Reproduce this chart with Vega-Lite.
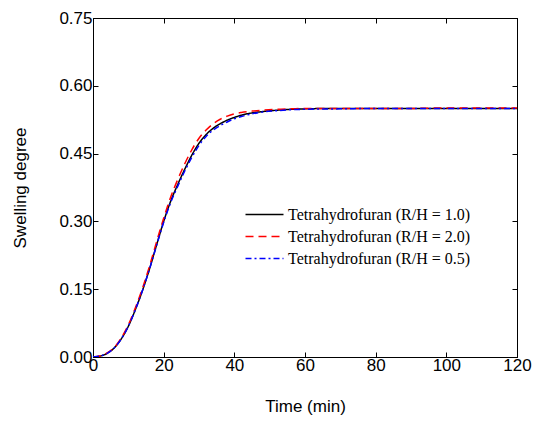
{
  "$schema": "https://vega.github.io/schema/vega-lite/v6.json",
  "width": 424,
  "height": 339,
  "autosize": "none",
  "padding": {"left": 93, "top": 18, "right": 16, "bottom": 64},
  "background": "white",
  "config": {
    "view": {"stroke": "black", "strokeWidth": 1},
    "axis": {
      "grid": false,
      "domainColor": "black",
      "tickColor": "black",
      "tickSize": -5,
      "labelFont": "Liberation Sans",
      "labelFontSize": 17,
      "labelColor": "black",
      "titleFont": "Liberation Sans",
      "titleFontSize": 17,
      "titleFontWeight": "normal",
      "titleColor": "black"
    },
    "legend": {
      "title": null,
      "orient": "none",
      "legendX": 161,
      "legendY": 186,
      "symbolType": "M-2,0H2",
      "symbolSize": 361,
      "symbolStrokeWidth": 1.5,
      "symbolFillColor": "transparent",
      "labelFont": "Liberation Serif",
      "labelFontSize": 16,
      "labelColor": "black",
      "labelLimit": 0,
      "labelOffset": 13,
      "rowPadding": 3,
      "padding": 0
    }
  },
  "data": {
    "values": [
      {"t": 0, "v": 0.0, "s": "Tetrahydrofuran (R/H = 1.0)"},
      {"t": 2, "v": 0.002, "s": "Tetrahydrofuran (R/H = 1.0)"},
      {"t": 4, "v": 0.008, "s": "Tetrahydrofuran (R/H = 1.0)"},
      {"t": 6, "v": 0.02, "s": "Tetrahydrofuran (R/H = 1.0)"},
      {"t": 8, "v": 0.04, "s": "Tetrahydrofuran (R/H = 1.0)"},
      {"t": 10, "v": 0.068, "s": "Tetrahydrofuran (R/H = 1.0)"},
      {"t": 12, "v": 0.105, "s": "Tetrahydrofuran (R/H = 1.0)"},
      {"t": 14, "v": 0.147, "s": "Tetrahydrofuran (R/H = 1.0)"},
      {"t": 16, "v": 0.195, "s": "Tetrahydrofuran (R/H = 1.0)"},
      {"t": 18, "v": 0.248, "s": "Tetrahydrofuran (R/H = 1.0)"},
      {"t": 20, "v": 0.3, "s": "Tetrahydrofuran (R/H = 1.0)"},
      {"t": 22, "v": 0.345, "s": "Tetrahydrofuran (R/H = 1.0)"},
      {"t": 24, "v": 0.382, "s": "Tetrahydrofuran (R/H = 1.0)"},
      {"t": 26, "v": 0.416, "s": "Tetrahydrofuran (R/H = 1.0)"},
      {"t": 28, "v": 0.447, "s": "Tetrahydrofuran (R/H = 1.0)"},
      {"t": 30, "v": 0.473, "s": "Tetrahydrofuran (R/H = 1.0)"},
      {"t": 32, "v": 0.492, "s": "Tetrahydrofuran (R/H = 1.0)"},
      {"t": 34, "v": 0.506, "s": "Tetrahydrofuran (R/H = 1.0)"},
      {"t": 36, "v": 0.516, "s": "Tetrahydrofuran (R/H = 1.0)"},
      {"t": 38, "v": 0.524, "s": "Tetrahydrofuran (R/H = 1.0)"},
      {"t": 40, "v": 0.53, "s": "Tetrahydrofuran (R/H = 1.0)"},
      {"t": 42, "v": 0.535, "s": "Tetrahydrofuran (R/H = 1.0)"},
      {"t": 45, "v": 0.54, "s": "Tetrahydrofuran (R/H = 1.0)"},
      {"t": 48, "v": 0.543, "s": "Tetrahydrofuran (R/H = 1.0)"},
      {"t": 52, "v": 0.546, "s": "Tetrahydrofuran (R/H = 1.0)"},
      {"t": 56, "v": 0.548, "s": "Tetrahydrofuran (R/H = 1.0)"},
      {"t": 60, "v": 0.549, "s": "Tetrahydrofuran (R/H = 1.0)"},
      {"t": 70, "v": 0.55, "s": "Tetrahydrofuran (R/H = 1.0)"},
      {"t": 80, "v": 0.55, "s": "Tetrahydrofuran (R/H = 1.0)"},
      {"t": 90, "v": 0.55, "s": "Tetrahydrofuran (R/H = 1.0)"},
      {"t": 100, "v": 0.55, "s": "Tetrahydrofuran (R/H = 1.0)"},
      {"t": 110, "v": 0.55, "s": "Tetrahydrofuran (R/H = 1.0)"},
      {"t": 120, "v": 0.55, "s": "Tetrahydrofuran (R/H = 1.0)"},
      {"t": 0, "v": 0.0, "s": "Tetrahydrofuran (R/H = 2.0)"},
      {"t": 2, "v": 0.002, "s": "Tetrahydrofuran (R/H = 2.0)"},
      {"t": 4, "v": 0.009, "s": "Tetrahydrofuran (R/H = 2.0)"},
      {"t": 6, "v": 0.021, "s": "Tetrahydrofuran (R/H = 2.0)"},
      {"t": 8, "v": 0.042, "s": "Tetrahydrofuran (R/H = 2.0)"},
      {"t": 10, "v": 0.071, "s": "Tetrahydrofuran (R/H = 2.0)"},
      {"t": 12, "v": 0.109, "s": "Tetrahydrofuran (R/H = 2.0)"},
      {"t": 14, "v": 0.152, "s": "Tetrahydrofuran (R/H = 2.0)"},
      {"t": 16, "v": 0.201, "s": "Tetrahydrofuran (R/H = 2.0)"},
      {"t": 18, "v": 0.255, "s": "Tetrahydrofuran (R/H = 2.0)"},
      {"t": 20, "v": 0.307, "s": "Tetrahydrofuran (R/H = 2.0)"},
      {"t": 22, "v": 0.354, "s": "Tetrahydrofuran (R/H = 2.0)"},
      {"t": 24, "v": 0.393, "s": "Tetrahydrofuran (R/H = 2.0)"},
      {"t": 26, "v": 0.428, "s": "Tetrahydrofuran (R/H = 2.0)"},
      {"t": 28, "v": 0.459, "s": "Tetrahydrofuran (R/H = 2.0)"},
      {"t": 30, "v": 0.484, "s": "Tetrahydrofuran (R/H = 2.0)"},
      {"t": 32, "v": 0.502, "s": "Tetrahydrofuran (R/H = 2.0)"},
      {"t": 34, "v": 0.516, "s": "Tetrahydrofuran (R/H = 2.0)"},
      {"t": 36, "v": 0.526, "s": "Tetrahydrofuran (R/H = 2.0)"},
      {"t": 38, "v": 0.533, "s": "Tetrahydrofuran (R/H = 2.0)"},
      {"t": 40, "v": 0.538, "s": "Tetrahydrofuran (R/H = 2.0)"},
      {"t": 42, "v": 0.541, "s": "Tetrahydrofuran (R/H = 2.0)"},
      {"t": 45, "v": 0.544, "s": "Tetrahydrofuran (R/H = 2.0)"},
      {"t": 48, "v": 0.546, "s": "Tetrahydrofuran (R/H = 2.0)"},
      {"t": 52, "v": 0.548, "s": "Tetrahydrofuran (R/H = 2.0)"},
      {"t": 56, "v": 0.549, "s": "Tetrahydrofuran (R/H = 2.0)"},
      {"t": 60, "v": 0.55, "s": "Tetrahydrofuran (R/H = 2.0)"},
      {"t": 70, "v": 0.55, "s": "Tetrahydrofuran (R/H = 2.0)"},
      {"t": 80, "v": 0.55, "s": "Tetrahydrofuran (R/H = 2.0)"},
      {"t": 90, "v": 0.55, "s": "Tetrahydrofuran (R/H = 2.0)"},
      {"t": 100, "v": 0.551, "s": "Tetrahydrofuran (R/H = 2.0)"},
      {"t": 110, "v": 0.551, "s": "Tetrahydrofuran (R/H = 2.0)"},
      {"t": 120, "v": 0.551, "s": "Tetrahydrofuran (R/H = 2.0)"},
      {"t": 0, "v": 0.0, "s": "Tetrahydrofuran (R/H = 0.5)"},
      {"t": 2, "v": 0.002, "s": "Tetrahydrofuran (R/H = 0.5)"},
      {"t": 4, "v": 0.008, "s": "Tetrahydrofuran (R/H = 0.5)"},
      {"t": 6, "v": 0.02, "s": "Tetrahydrofuran (R/H = 0.5)"},
      {"t": 8, "v": 0.04, "s": "Tetrahydrofuran (R/H = 0.5)"},
      {"t": 10, "v": 0.068, "s": "Tetrahydrofuran (R/H = 0.5)"},
      {"t": 12, "v": 0.105, "s": "Tetrahydrofuran (R/H = 0.5)"},
      {"t": 14, "v": 0.147, "s": "Tetrahydrofuran (R/H = 0.5)"},
      {"t": 16, "v": 0.195, "s": "Tetrahydrofuran (R/H = 0.5)"},
      {"t": 18, "v": 0.247, "s": "Tetrahydrofuran (R/H = 0.5)"},
      {"t": 20, "v": 0.298, "s": "Tetrahydrofuran (R/H = 0.5)"},
      {"t": 22, "v": 0.342, "s": "Tetrahydrofuran (R/H = 0.5)"},
      {"t": 24, "v": 0.378, "s": "Tetrahydrofuran (R/H = 0.5)"},
      {"t": 26, "v": 0.412, "s": "Tetrahydrofuran (R/H = 0.5)"},
      {"t": 28, "v": 0.442, "s": "Tetrahydrofuran (R/H = 0.5)"},
      {"t": 30, "v": 0.468, "s": "Tetrahydrofuran (R/H = 0.5)"},
      {"t": 32, "v": 0.488, "s": "Tetrahydrofuran (R/H = 0.5)"},
      {"t": 34, "v": 0.502, "s": "Tetrahydrofuran (R/H = 0.5)"},
      {"t": 36, "v": 0.512, "s": "Tetrahydrofuran (R/H = 0.5)"},
      {"t": 38, "v": 0.52, "s": "Tetrahydrofuran (R/H = 0.5)"},
      {"t": 40, "v": 0.527, "s": "Tetrahydrofuran (R/H = 0.5)"},
      {"t": 42, "v": 0.532, "s": "Tetrahydrofuran (R/H = 0.5)"},
      {"t": 45, "v": 0.538, "s": "Tetrahydrofuran (R/H = 0.5)"},
      {"t": 48, "v": 0.542, "s": "Tetrahydrofuran (R/H = 0.5)"},
      {"t": 52, "v": 0.545, "s": "Tetrahydrofuran (R/H = 0.5)"},
      {"t": 56, "v": 0.547, "s": "Tetrahydrofuran (R/H = 0.5)"},
      {"t": 60, "v": 0.548, "s": "Tetrahydrofuran (R/H = 0.5)"},
      {"t": 70, "v": 0.549, "s": "Tetrahydrofuran (R/H = 0.5)"},
      {"t": 80, "v": 0.55, "s": "Tetrahydrofuran (R/H = 0.5)"},
      {"t": 90, "v": 0.55, "s": "Tetrahydrofuran (R/H = 0.5)"},
      {"t": 100, "v": 0.55, "s": "Tetrahydrofuran (R/H = 0.5)"},
      {"t": 110, "v": 0.55, "s": "Tetrahydrofuran (R/H = 0.5)"},
      {"t": 120, "v": 0.55, "s": "Tetrahydrofuran (R/H = 0.5)"}
    ]
  },
  "layer": [
    {
      "mark": {"type": "line", "strokeWidth": 1.5, "interpolate": "monotone", "clip": true},
      "encoding": {
        "x": {
          "field": "t", "type": "quantitative",
          "scale": {"domain": [0, 120], "nice": false},
          "axis": {"orient": "bottom", "values": [0, 20, 40, 60, 80, 100, 120], "title": "Time (min)", "labelPadding": 5, "titlePadding": 25, "labelFlush": false, "labelOverlap": false}
        },
        "y": {
          "field": "v", "type": "quantitative",
          "scale": {"domain": [0, 0.75], "nice": false},
          "axis": {"orient": "left", "values": [0, 0.15, 0.3, 0.45, 0.6, 0.75], "format": ".2f", "title": "Swelling degree", "labelPadding": 6, "titlePadding": 29, "labelFlush": false, "labelOverlap": false}
        },
        "color": {
          "field": "s", "type": "nominal",
          "scale": {
            "domain": ["Tetrahydrofuran (R/H = 1.0)", "Tetrahydrofuran (R/H = 2.0)", "Tetrahydrofuran (R/H = 0.5)"],
            "range": ["#000000", "#ff0000", "#0000ff"]
          },
          "legend": {"title": null}
        },
        "strokeDash": {
          "field": "s", "type": "nominal",
          "scale": {
            "domain": ["Tetrahydrofuran (R/H = 1.0)", "Tetrahydrofuran (R/H = 2.0)", "Tetrahydrofuran (R/H = 0.5)"],
            "range": [[1, 0], [8, 5], [6, 3, 2, 3]]
          },
          "legend": {"title": null}
        }
      }
    },
    {
      "mark": {"type": "line", "strokeOpacity": 0},
      "encoding": {
        "x": {
          "field": "t", "type": "quantitative",
          "axis": {"orient": "top", "values": [0, 20, 40, 60, 80, 100, 120], "labels": false, "title": null}
        },
        "y": {
          "field": "v", "type": "quantitative",
          "axis": {"orient": "right", "values": [0, 0.15, 0.3, 0.45, 0.6, 0.75], "labels": false, "title": null}
        },
        "detail": {"field": "s", "type": "nominal"}
      }
    }
  ],
  "resolve": {"axis": {"x": "independent", "y": "independent"}}
}
